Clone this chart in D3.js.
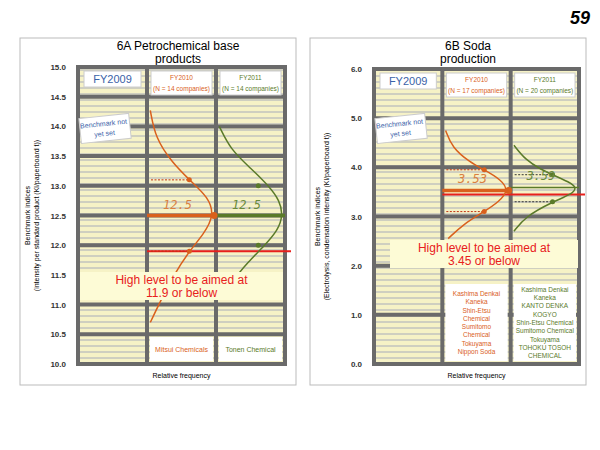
<!DOCTYPE html>
<html><head><meta charset="utf-8">
<script src="https://cdn.jsdelivr.net/npm/d3@7"></script>
<style>body{margin:0;background:#fff}</style></head>
<body><svg id="c" width="600" height="450"></svg>
<script>
// ---- data ----
const titlesA = ["6A Petrochemical base", "products"];
const titlesB = ["6B Soda", "production"];
const ticksA = [10.0,10.5,11.0,11.5,12.0,12.5,13.0,13.5,14.0,14.5,15.0];
const ticksB = [0.0,1.0,2.0,3.0,4.0,5.0,6.0];
const years = ["FY2009","FY2010","FY2011"];
const nA = ["(N = 14 companies)","(N = 14 companies)"];
const nB = ["(N = 17 companies)","(N = 20 companies)"];
// curves: [value, relative frequency 0..1]
const a2010 = [[14.27,0.02],[13.8,0.1],[13.4,0.35],[13.1,0.62],[12.8,0.92],[12.5,1.0],[12.2,0.85],[11.9,0.62],[11.5,0.38],[11.0,0.15],[10.7,0.02]];
const a2011 = [[14.0,0.02],[13.6,0.2],[13.3,0.5],[13.0,0.78],[12.75,0.95],[12.5,1.0],[12.25,0.92],[12.0,0.72],[11.7,0.45],[11.5,0.3]];
const aPts2010 = [[13.1,0.62],[12.5,1.0],[11.9,0.62]];
const aPts2011 = [[13.0,0.62],[12.0,0.62]];
const b2010 = [[4.75,0.02],[4.4,0.12],[4.1,0.4],[3.95,0.62],[3.75,0.88],[3.53,1.0],[3.3,0.85],[3.1,0.62],[2.85,0.3],[2.55,0.06]];
const b2011 = [[4.45,0.02],[4.15,0.2],[3.95,0.45],[3.85,0.62],[3.7,0.88],[3.59,1.0],[3.45,0.92],[3.3,0.62],[3.0,0.2],[2.7,0.02]];
const bPts2010 = [[3.95,0.62],[3.53,1.0],[3.1,0.62]];
const bPts2011 = [[3.85,0.62],[3.3,0.62]];
const meanA = [12.5,12.5], meanB = [3.53,3.59];
const targetA = 11.9, targetB = 3.45;
const targetTextA = ["High level to be aimed at","11.9 or below"];
const targetTextB = ["High level to be aimed at","3.45 or below"];
const compA2010 = ["Mitsui Chemicals"], compA2011 = ["Tonen Chemical"];
const compB2010 = ["Kashima Denkai","Kaneka","Shin-Etsu","Chemical","Sumitomo","Chemical","Tokuyama","Nippon Soda"];
const compB2011 = ["Kashima Denkai","Kaneka","KANTO DENKA","KOGYO","Shin-Etsu Chemical","Sumitomo Chemical","Tokuyama","TOHOKU TOSOH","CHEMICAL"];
const yTitleA = ["Benchmark indices","(intensity per standard product (Kl/paperboard t))"];
const yTitleB = ["Benchmark indices","(Electrolysis, condensation intensity (Kl/paperboard t))"];

const svg = d3.select("#c");
const OR="#d9601c", GR="#5a7a2a", BL="#3a62a8";
const defs = svg.append("defs");
const pat = defs.append("pattern").attr("id","st").attr("width",6).attr("height",6).attr("patternUnits","userSpaceOnUse");
pat.append("rect").attr("width",6).attr("height",6).attr("fill","#f6f2c6");
pat.append("rect").attr("y",3).attr("width",6).attr("height",2).attr("fill","#cfcfc0");

svg.append("text").attr("x",590).attr("y",24).attr("text-anchor","end").attr("font-family","Liberation Sans").attr("font-weight","bold").attr("font-style","italic").attr("font-size",18).text("59");

function panel(o){
  const g = svg.append("g");
  g.append("rect").attr("x",o.bx).attr("y",38).attr("width",276).attr("height",347).attr("fill","#fff").attr("stroke","#bbb");
  g.selectAll(".tt").data(o.titles).join("text").attr("x",o.bx+158).attr("y",(d,i)=>50+i*13).attr("text-anchor","middle").attr("font-family","Liberation Sans").attr("font-size",12).text(d=>d);
  const y = d3.scaleLinear().domain(o.dom).range([o.y1,o.y0]);
  const x0=o.px, w=o.pw, cw=w/3;
  g.append("rect").attr("x",x0).attr("y",o.y0).attr("width",w).attr("height",o.y1-o.y0).attr("fill","url(#st)").attr("stroke","#6a6a6a").attr("stroke-width",4);
  o.ticks.forEach(t=>{ if(t>o.dom[0]&&t<o.dom[1]) g.append("line").attr("x1",x0).attr("x2",x0+w).attr("y1",y(t)).attr("y2",y(t)).attr("stroke","#6a6a6a").attr("stroke-width",4);});
  [1,2].forEach(i=>g.append("line").attr("x1",x0+i*cw).attr("x2",x0+i*cw).attr("y1",o.y0).attr("y2",o.y1).attr("stroke","#6a6a6a").attr("stroke-width",4));
  const ax = d3.axisLeft(y).tickValues(o.ticks).tickFormat(d3.format(".1f")).tickSize(0).tickPadding(10);
  const ag = g.append("g").attr("transform",`translate(${x0-2},0)`).call(ax);
  ag.select(".domain").remove();
  ag.selectAll("text").attr("font-family","Liberation Sans").attr("font-weight","bold").attr("font-size",8).attr("fill","#333");
  g.append("text").attr("x",x0+w/2).attr("y",o.y1+14).attr("text-anchor","middle").attr("font-family","Liberation Sans").attr("font-size",7).text("Relative frequency");
  const yt = g.append("text").attr("transform",`translate(${o.bx+10},${(o.y0+o.y1)/2}) rotate(-90)`).attr("text-anchor","middle").attr("font-family","Liberation Sans").attr("font-size",7);
  o.ytitle.forEach((t,i)=>yt.append("tspan").attr("x",0).attr("dy",i?9:0).text(t));
  // headers
  g.append("rect").attr("x",x0+6).attr("y",o.y0+4).attr("width",cw-12).attr("height",16).attr("fill","#fff").attr("stroke","#ccc");
  g.append("text").attr("x",x0+cw/2).attr("y",o.y0+16).attr("text-anchor","middle").attr("font-family","Liberation Sans").attr("font-size",11).attr("fill",BL).text(years[0]);
  [1,2].forEach(i=>{
    const c = i==1?OR:GR;
    g.append("rect").attr("x",x0+i*cw+4).attr("y",o.y0+4).attr("width",cw-8).attr("height",24).attr("fill","#fff").attr("stroke","#ccc");
    g.append("text").attr("x",x0+i*cw+cw/2).attr("y",o.y0+13).attr("text-anchor","middle").attr("font-family","Liberation Sans").attr("font-size",6.5).attr("fill",c).text(years[i]);
    g.append("text").attr("x",x0+i*cw+cw/2).attr("y",o.y0+24).attr("text-anchor","middle").attr("font-family","Liberation Sans").attr("font-size",6.5).attr("fill",c).text(o.n[i-1]);
  });
  const bn = g.append("g").attr("transform",`translate(${x0+26},${o.bmY}) rotate(-6)`);
  bn.append("rect").attr("x",-24).attr("y",-12).attr("width",50).attr("height",25).attr("fill","#fff").attr("stroke","#ccc");
  bn.append("text").attr("text-anchor","middle").attr("y",-2).attr("font-family","Liberation Sans").attr("font-size",7).attr("fill",BL).text("Benchmark not");
  bn.append("text").attr("text-anchor","middle").attr("y",8).attr("font-family","Liberation Sans").attr("font-size",7).attr("fill",BL).text("yet set");
  // mean lines
  g.append("line").attr("x1",x0+cw).attr("x2",x0+2*cw).attr("y1",y(o.mean[0])).attr("y2",y(o.mean[0])).attr("stroke",OR).attr("stroke-width",3.5);
  g.append("line").attr("x1",x0+2*cw).attr("x2",x0+w).attr("y1",y(o.mean[1])).attr("y2",y(o.mean[1])).attr("stroke",GR).attr("stroke-width",o.gw);
  // target
  g.append("line").attr("x1",x0+cw).attr("x2",x0+w+6).attr("y1",y(o.target)).attr("y2",y(o.target)).attr("stroke","#e8201c").attr("stroke-width",2);
  // curves
  [[o.c1,o.p1,1,OR,true],[o.c2,o.p2,2,GR,o.gdash]].forEach(([cv,pts,i,c,dash])=>{
    const xs = d3.scaleLinear().domain([0,1]).range([x0+i*cw+2,x0+(i+1)*cw-2]);
    g.append("path").datum(cv).attr("d",d3.line().x(d=>xs(d[1])).y(d=>y(d[0])).curve(d3.curveBasis)).attr("fill","none").attr("stroke",c).attr("stroke-width",1.5);
    pts.forEach(p=>{
      if(p[1]<1 && dash) g.append("line").attr("x1",xs(0)+2).attr("x2",xs(p[1])).attr("y1",y(p[0])).attr("y2",y(p[0])).attr("stroke",c==OR?"#c03010":"#333").attr("stroke-dasharray","2,1.5");
      g.append("circle").attr("cx",xs(p[1])).attr("cy",y(p[0])).attr("r",p[1]==1?3.5:2.5).attr("fill",c);
    });
    g.append("text").attr("x",x0+i*cw+cw/2-4).attr("y",y(o.mean[i-1])-7).attr("text-anchor","middle").attr("font-family","DejaVu Sans Mono").attr("font-style","italic").attr("font-size",12).attr("fill",c==OR?"#d98040":"#6a8a3a").text(o.mean[i-1].toFixed(o.dig));
  });
  // target annotation
  g.append("rect").attr("x",o.ax).attr("y",o.ay).attr("width",o.aw).attr("height",28).attr("fill","#fdfbd6");
  o.ttext.forEach((t,i)=>g.append("text").attr("x",o.ax+o.aw/2).attr("y",o.ay+12+i*13).attr("text-anchor","middle").attr("font-family","Liberation Sans").attr("font-size",12).attr("fill","#e8201c").text(t));
  // companies
  [[o.k1,1,OR],[o.k2,2,GR]].forEach(([list,i,c])=>{
    const h = o.kh;
    g.append("rect").attr("x",x0+i*cw+3).attr("y",o.y1-h-3).attr("width",cw-6).attr("height",h).attr("fill","#fff");
    list.forEach((t,j)=>g.append("text").attr("x",x0+i*cw+cw/2).attr("y",o.y1-h-3+(h-list.length*o.ks)/2+o.ks*(j+0.8)).attr("text-anchor","middle").attr("font-family","Liberation Sans").attr("font-size",o.kf).attr("fill",c).text(t));
  });
}
panel({bx:20,titles:titlesA,dom:[10,15],ticks:ticksA,y0:67,y1:364,px:78,pw:207,ytitle:yTitleA,n:nA,bmY:128,
  mean:meanA,gw:3.5,gdash:false,target:targetA,c1:a2010,p1:aPts2010,c2:a2011,p2:aPts2011,dig:1,
  ax:80,ay:272,aw:203,ttext:targetTextA,k1:compA2010,k2:compA2011,kh:24,ks:10,kf:7});
panel({bx:310,titles:titlesB,dom:[0,6],ticks:ticksB,y0:69,y1:364,px:374,pw:205,ytitle:yTitleB,n:nB,bmY:128,
  mean:meanB,gw:1.5,gdash:true,target:targetB,c1:b2010,p1:bPts2010,c2:b2011,p2:bPts2011,dig:2,
  ax:390,ay:240,aw:188,ttext:targetTextB,k1:compB2010,k2:compB2011,kh:77,ks:8.3,kf:6.5});
</script></body></html>
